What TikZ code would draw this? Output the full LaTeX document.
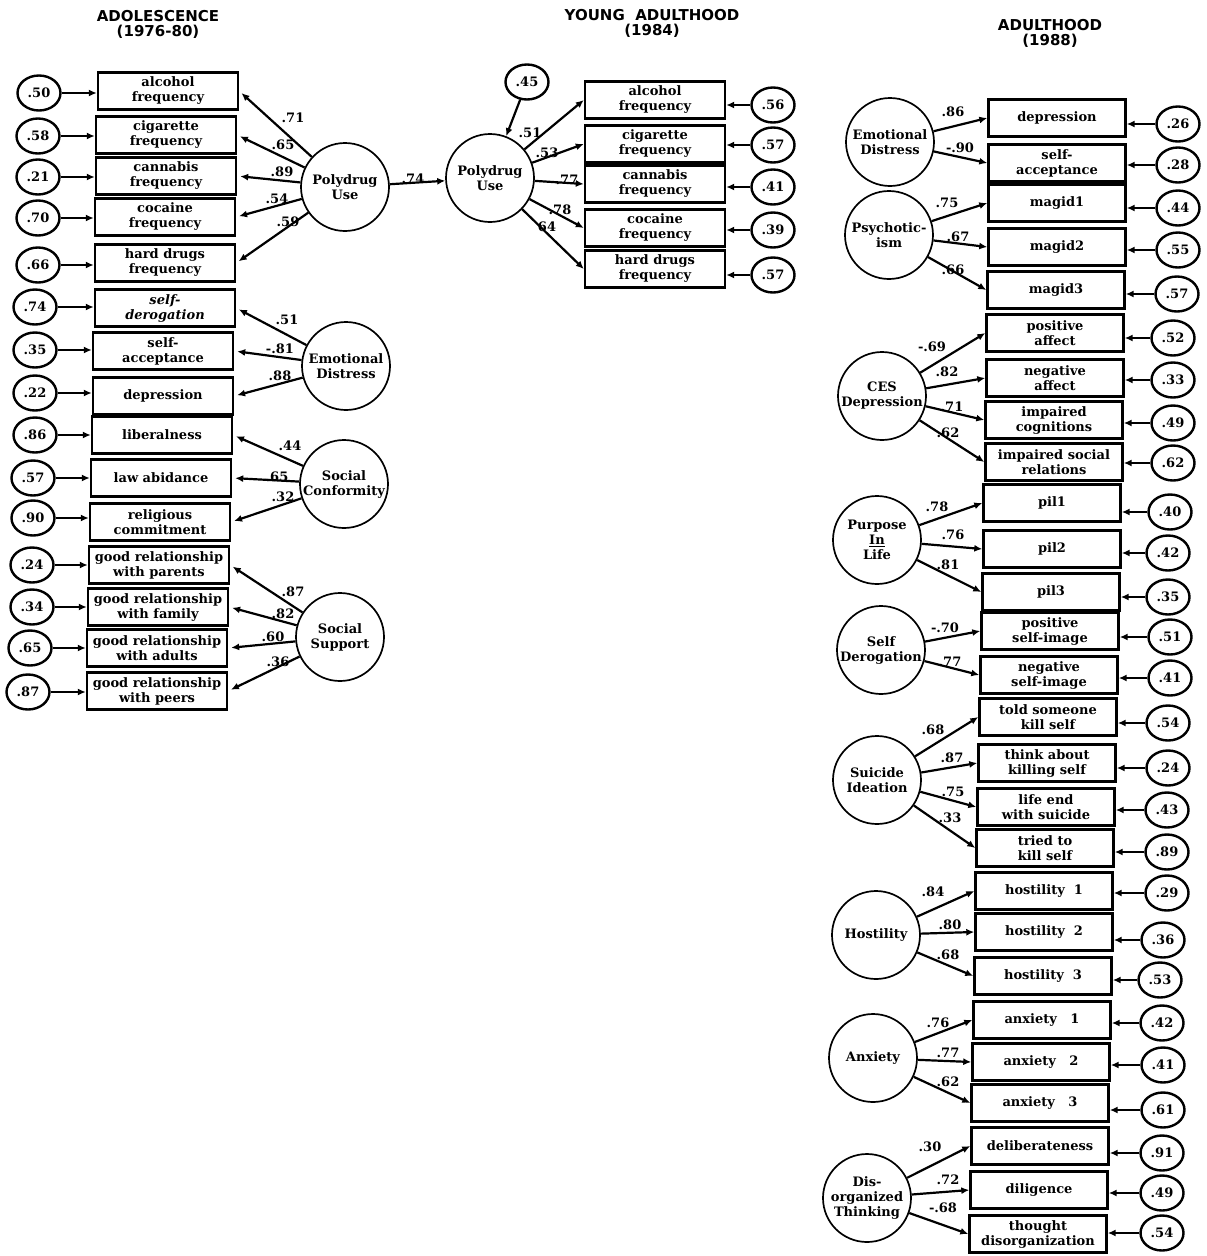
\documentclass[tikz,border=0pt]{standalone}
\usepackage{fontspec}
\setmainfont{DejaVu Serif}
\newfontfamily\ttlfont{DejaVu Sans}
\usetikzlibrary{shapes.geometric,arrows.meta}

\begin{document}
\begin{tikzpicture}[x=1pt, y=-1pt,
  every node/.style={font=\fontsize{13}{15}\selectfont\bfseries},
  obs/.style={draw, line width=2.4pt, minimum width=140, minimum height=37, inner sep=1.5pt, align=center},
  lat/.style={draw, circle, line width=1.7pt, minimum size=88, inner sep=0pt, align=center},
  err/.style={draw, ellipse, line width=2.4pt, minimum width=43, minimum height=35, inner sep=0pt},
  arr/.style={-{Latex[length=8pt,width=7pt]}, line width=2.2pt},
  ld/.style={arr, shorten >=3pt},
  lbl/.style={inner sep=1pt},
  ttl/.style={font=\ttlfont\fontsize{15}{15}\selectfont\bfseries, align=center}]
  \useasboundingbox[fill=white] (0,0) rectangle (1207,1256);

  % Titles
  \node[ttl] (t1) at (158,24) {ADOLESCENCE\\(1976-80)};
  \node[ttl] (t2) at (652,23) {YOUNG\ \ ADULTHOOD\\(1984)};
  \node[ttl] (t3) at (1050,33) {ADULTHOOD\\(1988)};

  % Adolescence: indicators with their error terms
  \foreach \nm/\x/\y/\ex/\ey/\ev/\txt in {
    a1/168/91/39/93/.50/{alcohol\\frequency},
    a2/166/135/38/136/.58/{cigarette\\frequency},
    a3/166/176/38/177/.21/{cannabis\\frequency},
    a4/165/217/38/218/.70/{cocaine\\frequency},
    a5/165/263/38/265/.66/{hard drugs\\frequency},
    a6/165/308/35/307/.74/{\itshape self-\\\itshape derogation},
    a7/163/351/35/350/.35/{self-\\acceptance},
    a8/163/396/35/393/.22/{depression},
    a9/162/435/35/435/.86/{liberalness},
    a10/161/478/33/478/.57/{law abidance},
    a11/160/522/33/518/.90/{religious\\commitment},
    a12/159/565/32/565/.24/{good relationship\\with parents},
    a13/158/607/32/607/.34/{good relationship\\with family},
    a14/157/648/30/648/.65/{good relationship\\with adults},
    a15/157/691/28/692/.87/{good relationship\\with peers}} {
    \node[obs] (\nm) at (\x,\y) {\txt};
    \node[err] (e\nm) at (\ex,\ey) {\ev};
    \draw[arr] (e\nm.east) -- (e\nm.east -| \nm.west);
  }

  % Adolescence: latent factors
  \node[lat] (pu1) at (345,187) {Polydrug\\Use};
  \node[lat] (ed1) at (346,366) {Emotional\\Distress};
  \node[lat] (sc1) at (344,484) {Social\\Conformity};
  \node[lat] (ss1) at (340,637) {Social\\Support};

  \foreach \lv/\obs/\val/\vx/\vy in {
    pu1/a1/.71/293/118, pu1/a2/.65/283/145, pu1/a3/.89/282/172,
    pu1/a4/.54/277/199, pu1/a5/.59/288/222,
    ed1/a6/.51/287/320, ed1/a7/-.81/280/349, ed1/a8/.88/280/376,
    sc1/a9/.44/290/446, sc1/a10/.65/277/477, sc1/a11/.32/283/497,
    ss1/a12/.87/293/592, ss1/a13/.82/283/614, ss1/a14/.60/273/637,
    ss1/a15/.36/278/662} {
    \draw[ld] (\lv) -- (\obs.east);
    \node[lbl] (v\obs) at (\vx,\vy) {\val};
  }

  % Young adulthood
  \node[lat] (pu2) at (490,178) {Polydrug\\Use};
  \node[err] (e0) at (527,82) {.45};
  \draw[arr] (e0) -- (pu2);
  \draw[arr] (pu1) -- (pu2);
  \node[lbl] (v0) at (413,179) {.74};

  \foreach \nm/\y/\ey/\ev/\txt/\val/\vx/\vy in {
    b1/100/105/.56/{alcohol\\frequency}/.51/530/133,
    b2/144/145/.57/{cigarette\\frequency}/.53/547/153,
    b3/184/187/.41/{cannabis\\frequency}/.77/567/180,
    b4/228/230/.39/{cocaine\\frequency}/.78/560/210,
    b5/269/275/.57/{hard drugs\\frequency}/64/547/227} {
    \node[obs] (\nm) at (655,\y) {\txt};
    \node[err] (e\nm) at (773,\ey) {\ev};
    \draw[arr] (e\nm.west) -- (e\nm.west -| \nm.east);
    \draw[arr] (pu2) -- (\nm.west);
    \node[lbl] (v\nm) at (\vx,\vy) {\val};
  }

  % Adulthood: indicators with their error terms
  \foreach \nm/\x/\y/\ex/\ey/\ev/\txt in {
    c1/1057/118/1178/124/.26/{depression},
    c2/1057/163/1178/165/.28/{self-\\acceptance},
    c3/1057/203/1178/208/.44/{magid1},
    c4/1057/247/1178/250/.55/{magid2},
    c5/1056/290/1177/294/.57/{magid3},
    c6/1055/333/1173/338/.52/{positive\\affect},
    c7/1055/378/1173/380/.33/{negative\\affect},
    c8/1054/420/1173/423/.49/{impaired\\cognitions},
    c9/1054/462/1173/463/.62/{impaired social\\relations},
    c10/1052/503/1170/512/.40/{pil1},
    c11/1052/549/1168/553/.42/{pil2},
    c12/1051/592/1168/597/.35/{pil3},
    c13/1050/631/1170/637/.51/{positive\\self-image},
    c14/1049/675/1170/678/.41/{negative\\self-image},
    c15/1048/717/1168/723/.54/{told someone\\kill self},
    c16/1047/763/1168/768/.24/{think about\\killing self},
    c17/1046/807/1167/810/.43/{life end\\with suicide},
    c18/1045/848/1167/852/.89/{tried to\\kill self},
    c19/1044/891/1167/893/.29/{hostility\ \ 1},
    c20/1044/932/1163/940/.36/{hostility\ \ 2},
    c21/1043/976/1160/980/.53/{hostility\ \ 3},
    c22/1042/1020/1162/1023/.42/{anxiety\ \ \ 1},
    c23/1041/1062/1163/1065/.41/{anxiety\ \ \ 2},
    c24/1040/1103/1163/1110/.61/{anxiety\ \ \ 3},
    c25/1040/1146/1162/1153/.91/{deliberateness},
    c26/1039/1190/1162/1193/.49/{diligence},
    c27/1038/1234/1162/1233/.54/{thought\\disorganization}} {
    \node[obs, minimum width=137] (\nm) at (\x,\y) {\txt};
    \node[err] (e\nm) at (\ex,\ey) {\ev};
    \draw[arr] (e\nm.west) -- (e\nm.west -| \nm.east);
  }

  % Adulthood: latent factors
  \node[lat] (ed3) at (890,142) {Emotional\\Distress};
  \node[lat] (psy) at (889,235) {Psychotic-\\ism};
  \node[lat] (ces) at (882,396) {CES\\Depression};
  \node[lat] (pil) at (877,540) {Purpose\\\underline{In}\\Life};
  \node[lat] (sd) at (881,650) {Self\\Derogation};
  \node[lat] (si) at (877,780) {Suicide\\Ideation};
  \node[lat] (hos) at (876,935) {Hostility};
  \node[lat] (anx) at (873,1058) {Anxiety};
  \node[lat] (dt) at (867,1198) {Dis-\\organized\\Thinking};

  \foreach \lv/\obs/\val/\vx/\vy in {
    ed3/c1/.86/953/112, ed3/c2/-.90/960/148,
    psy/c3/.75/947/203, psy/c4/.67/958/237, psy/c5/.66/953/270,
    ces/c6/-.69/932/347, ces/c7/.82/947/372, ces/c8/.71/952/407, ces/c9/.62/948/433,
    pil/c10/.78/937/507, pil/c11/.76/953/535, pil/c12/.81/948/565,
    sd/c13/-.70/945/628, sd/c14/.77/950/662,
    si/c15/.68/933/730, si/c16/.87/952/758, si/c17/.75/953/792, si/c18/.33/950/818,
    hos/c19/.84/933/892, hos/c20/.80/950/925, hos/c21/.68/948/955,
    anx/c22/.76/938/1023, anx/c23/.77/948/1053, anx/c24/.62/948/1082,
    dt/c25/.30/930/1147, dt/c26/.72/948/1180, dt/c27/-.68/943/1208} {
    \draw[arr] (\lv) -- (\obs.west);
    \node[lbl] (v\obs) at (\vx,\vy) {\val};
  }
\end{tikzpicture}
\end{document}
